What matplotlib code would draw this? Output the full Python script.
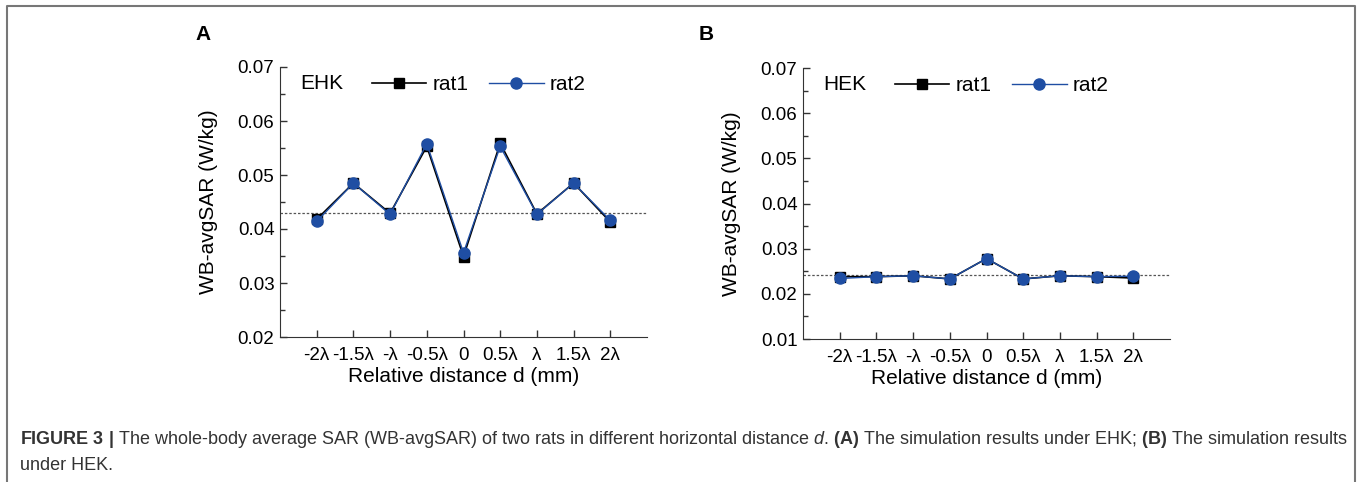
import numpy as np
import matplotlib.pyplot as plt
from matplotlib.lines import Line2D

plt.rcParams['font.family'] = ['Liberation Sans', 'DejaVu Sans']
plt.rcParams['mathtext.fontset'] = 'custom'
plt.rcParams['mathtext.rm'] = 'Liberation Sans'
plt.rcParams['mathtext.it'] = 'Liberation Sans:italic'
plt.rcParams['mathtext.bf'] = 'Liberation Sans:bold'

# data
tick_labels = ["-2λ", "-1.5λ", "-λ", "-0.5λ", "0", "0.5λ", "λ", "1.5λ", "2λ"]
ehk_rat1 = [0.0418, 0.0485, 0.0429, 0.0553, 0.0349, 0.0559, 0.0428, 0.0485, 0.0413]
ehk_rat2 = [0.0414, 0.0485, 0.0427, 0.0558, 0.0356, 0.0553, 0.0427, 0.0485, 0.0416]
ehk_ref = 0.0430
hek_rat1 = [0.0238, 0.0238, 0.0240, 0.0233, 0.0278, 0.0233, 0.0240, 0.0238, 0.0235]
hek_rat2 = [0.0234, 0.0238, 0.0240, 0.0233, 0.0278, 0.0233, 0.0240, 0.0238, 0.0239]
hek_ref = 0.0241

BLUE = "#1f4ea3"
W, H = 1360, 482

fig = plt.figure(figsize=(13.6, 4.82), dpi=100)


def px_axes(x0, y0, x1, y1):
    return fig.add_axes([x0 / W, 1 - y1 / H, (x1 - x0) / W, (y1 - y0) / H])


def panel(ax, r1, r2, ref, ylo, yticks, name):
    x = np.arange(len(tick_labels))
    ax.plot(x, r1, color="black", lw=1.2, marker="s", ms=7, zorder=3)
    ax.plot(x, r2, color=BLUE, lw=1.0, marker="o", ms=8, zorder=4)
    ax.axhline(ref, color="#555555", lw=0.9, ls=(0, (2, 1.5)), zorder=2)
    ax.set_xlim(-1, 9)
    ax.set_ylim(ylo, 0.07)
    ax.set_xticks(x)
    ax.set_xticklabels(tick_labels)
    ax.set_yticks(yticks)
    ax.set_yticklabels([f"{v:.2f}" for v in yticks])
    ax.set_yticks(np.arange(ylo + 0.005, 0.07, 0.01), minor=True)
    ax.spines["top"].set_visible(False)
    ax.spines["right"].set_visible(False)
    for s in ("left", "bottom"):
        ax.spines[s].set_color("#333333")
    ax.tick_params(labelsize=13.5, length=5, width=1, direction="in", pad=4,
                   color="#333333")
    ax.tick_params(axis="x", pad=7)
    ax.tick_params(which="minor", length=3.5, width=1, direction="in", color="#333333")
    ax.set_xlabel("Relative distance d (mm)", fontsize=15, labelpad=2)
    ax.set_ylabel("WB-avgSAR (W/kg)", fontsize=15, labelpad=14)
    h1 = Line2D([], [], color="black", lw=1.2, marker="s", ms=7)
    h2 = Line2D([], [], color=BLUE, lw=1.0, marker="o", ms=8)
    ax.legend([h1, h2], ["rat1", "rat2"], ncol=2, frameon=False,
              loc="upper left", bbox_to_anchor=(0.2, 1.04), fontsize=15,
              handlelength=2.6, columnspacing=1.0, handletextpad=0.3)
    ax.text(0.055, 0.918, name, transform=ax.transAxes, fontsize=15, va="baseline")


axA = px_axes(280, 67, 647, 337)
panel(axA, ehk_rat1, ehk_rat2, ehk_ref, 0.02, [0.02, 0.03, 0.04, 0.05, 0.06, 0.07], "EHK")
axB = px_axes(803, 68, 1170, 339)
panel(axB, hek_rat1, hek_rat2, hek_ref, 0.01, [0.01, 0.02, 0.03, 0.04, 0.05, 0.06, 0.07], "HEK")

fig.text(203 / W, 1 - 35 / H, "A", fontsize=15, fontweight="bold", va="center", ha="center")
fig.text(706 / W, 1 - 35 / H, "B", fontsize=15, fontweight="bold", va="center", ha="center")

# outer frame (open at bottom)
fig.add_artist(Line2D([7 / W, 7 / W, 1355 / W, 1355 / W], [0, 1 - 6 / H, 1 - 6 / H, 0],
                      transform=fig.transFigure, color="#777777", lw=1.5))

cap1 = (r"$\mathbf{FIGURE\ 3\ |}$ The whole-body average SAR (WB-avgSAR) of two rats in different "
        r"horizontal distance $\mathit{d}$. $\mathbf{(A)}$ The simulation results under EHK; "
        r"$\mathbf{(B)}$ The simulation results")
fig.text(20 / W, 1 - 440 / H, cap1, fontsize=12.95, color="#333333", va="center")
fig.text(20 / W, 1 - 465 / H, "under HEK.", fontsize=12.95, color="#333333", va="center")

fig.savefig("out.png", dpi=100)
